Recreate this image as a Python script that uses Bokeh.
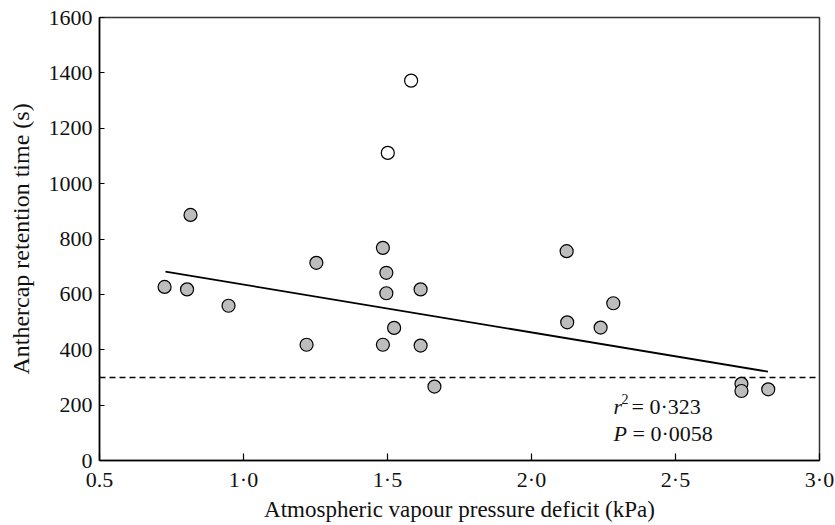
from bokeh.plotting import figure
from bokeh.models import Range1d, FixedTicker, Label
from bokeh.embed import file_html
from bokeh.resources import INLINE

# Filled circles (included in regression)
vpd_filled = [0.726, 0.804, 0.816, 0.948, 1.219, 1.253, 1.484, 1.484, 1.496, 1.496,
              1.523, 1.615, 1.615, 1.663, 2.122, 2.124, 2.240, 2.284, 2.729, 2.729, 2.822]
ret_filled = [627, 618, 887, 559, 418, 714, 768, 418, 678, 604,
              479, 618, 415, 267, 756, 499, 480, 568, 277, 251, 257]

# Open circles (outliers)
vpd_open = [1.501, 1.582]
ret_open = [1111, 1372]

# Regression line end points
fit_x = [0.729, 2.821]
fit_y = [682, 321]

threshold = 300

x_ticks = [0.5, 1.0, 1.5, 2.0, 2.5, 3.0]
x_tick_labels = ["0.5", "1·0", "1·5", "2·0", "2·5", "3·0"]
y_ticks = [0, 200, 400, 600, 800, 1000, 1200, 1400, 1600]

FONT = "Liberation Serif"
FS = "22px"

p = figure(width=834, height=524, output_backend="svg", toolbar_location=None,
           x_range=Range1d(0.5, 3.0), y_range=Range1d(0, 1600),
           min_border_left=99, min_border_right=15, min_border_top=17, min_border_bottom=63)

p.xgrid.visible = False
p.ygrid.visible = False
p.background_fill_color = "white"
p.border_fill_color = "white"
p.outline_line_color = "#333333"
p.outline_line_width = 1.5

p.xaxis.ticker = FixedTicker(ticks=x_ticks)
p.xaxis.major_label_overrides = {t: l for t, l in zip(x_ticks, x_tick_labels)}
p.yaxis.ticker = FixedTicker(ticks=y_ticks)

for ax in (p.xaxis[0], p.yaxis[0]):
    ax.axis_line_color = "black"
    ax.axis_line_width = 1.5
    ax.major_tick_line_color = "black"
    ax.major_tick_line_width = 1.2
    ax.major_tick_out = 0
    ax.minor_tick_line_color = None
    ax.major_label_text_font = FONT
    ax.major_label_text_font_size = FS
    ax.major_label_text_color = "#111111"
    ax.axis_label_text_font = FONT
    ax.axis_label_text_font_style = "normal"
    ax.axis_label_text_color = "#111111"

p.xaxis.axis_label_text_font_size = "23px"
p.yaxis.axis_label_text_font_size = "24px"
p.xaxis.major_tick_in = 7
p.yaxis.major_tick_in = 5
p.xaxis.major_label_standoff = 6
p.yaxis.major_label_standoff = 7
p.xaxis.axis_label = "Atmospheric vapour pressure deficit (kPa)"
p.yaxis.axis_label = "Anthercap retention time (s)"
p.xaxis.axis_label_standoff = 2
p.yaxis.axis_label_standoff = 12

# threshold dashed line
p.line(x=[0.5, 3.0], y=[threshold, threshold], line_color="black", line_width=1.5,
       line_dash="6 4")

# regression line
p.line(x=fit_x, y=fit_y, line_color="black", line_width=1.8)

p.scatter(x=vpd_filled, y=ret_filled, size=13, fill_color="#bdbdbd",
          line_color="black", line_width=1.2)
p.scatter(x=vpd_open, y=ret_open, size=13, fill_color="white",
          line_color="black", line_width=1.2)

# annotation
ann_x = 2.285
p.add_layout(Label(x=ann_x, y=195, text="r", text_font=FONT, text_font_size=FS,
                   text_font_style="italic", text_baseline="alphabetic", text_color="#111111"))
p.add_layout(Label(x=ann_x, y=195, x_offset=8, y_offset=8, text="2", text_font=FONT,
                   text_font_size="14px", text_baseline="alphabetic", text_color="#111111"))
p.add_layout(Label(x=ann_x, y=195, x_offset=18, text="= 0·323", text_font=FONT,
                   text_font_size=FS, text_baseline="alphabetic", text_color="#111111"))
p.add_layout(Label(x=ann_x, y=195, y_offset=-27, text="P", text_font=FONT, text_font_size=FS,
                   text_font_style="italic", text_baseline="alphabetic", text_color="#111111"))
p.add_layout(Label(x=ann_x, y=195, x_offset=19, y_offset=-27, text="= 0·0058", text_font=FONT,
                   text_font_size=FS, text_baseline="alphabetic", text_color="#111111"))

open("out.html", "w").write(file_html(p, INLINE))
